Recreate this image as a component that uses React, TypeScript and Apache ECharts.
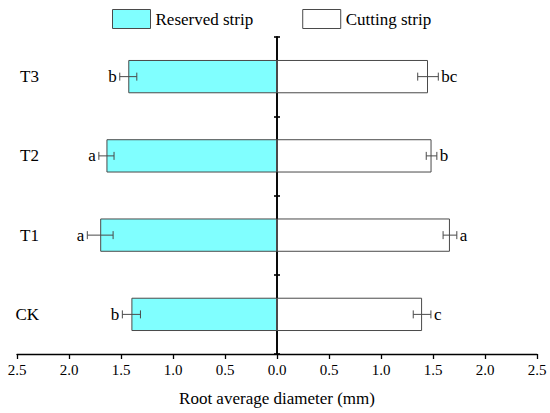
import React, { useEffect, useRef } from "react";
import * as echarts from "echarts";

const categories = ["CK", "T1", "T2", "T3"];
const reservedValues = [1.4, 1.7, 1.64, 1.43];
const reservedErrors = [0.087, 0.124, 0.073, 0.082];
const reservedLetters = ["b", "a", "a", "b"];
const cuttingValues = [1.395, 1.663, 1.486, 1.452];
const cuttingErrors = [0.085, 0.066, 0.051, 0.099];
const cuttingLetters = ["c", "a", "b", "bc"];
const xTicks = [-2.5, 2.5, 0.5];

const FONT = "Liberation Serif";
const BORDER = "#4a4a4a";

function errorRenderer(values: number[], errors: number[], letters: string[], sign: number) {
  return (params: any, api: any) => {
    const i = params.dataIndex;
    const v = sign * values[i];
    const e = errors[i];
    const inner = api.coord([v - sign * e, i]);
    const outer = api.coord([v + sign * e, i]);
    const y = inner[1];
    const cap = 4;
    return {
      type: "group",
      children: [
        { type: "line", shape: { x1: inner[0], y1: y, x2: outer[0], y2: y }, style: { stroke: BORDER, lineWidth: 1 } },
        { type: "line", shape: { x1: inner[0], y1: y - cap, x2: inner[0], y2: y + cap }, style: { stroke: BORDER, lineWidth: 1 } },
        { type: "line", shape: { x1: outer[0], y1: y - cap, x2: outer[0], y2: y + cap }, style: { stroke: BORDER, lineWidth: 1 } },
        {
          type: "text",
          x: outer[0] + sign * 3,
          y: y,
          style: {
            text: letters[i],
            fontSize: 17,
            fontFamily: FONT,
            fill: "#000",
            align: sign < 0 ? "right" : "left",
            verticalAlign: "middle",
          },
        },
      ],
    };
  };
}

export default function App() {
  const ref = useRef<HTMLDivElement>(null);
  useEffect(() => {
    document.body.style.margin = "0";
    const chart = echarts.init(ref.current!, null, { renderer: "svg" });
    const catAxisBase = {
      type: "category",
      data: categories,
      boundaryGap: true,
      axisLabel: { show: false },
      splitLine: { show: false },
    };
    chart.setOption({
      animation: false,
      backgroundColor: "#fff",
      textStyle: { fontFamily: FONT },
      legend: {
        data: ["Reserved strip", "Cutting strip"],
        left: 112,
        top: 9,
        padding: 0,
        icon: "rect",
        itemWidth: 38,
        itemHeight: 19,
        itemGap: 49,
        itemStyle: { borderColor: BORDER, borderWidth: 1 },
        textStyle: { fontSize: 17, fontFamily: FONT, color: "#000" },
      },
      grid: { left: 17, right: 13, top: 37, bottom: 59, containLabel: false },
      xAxis: {
        type: "value",
        min: xTicks[0],
        max: xTicks[1],
        interval: xTicks[2],
        name: "Root average diameter (mm)",
        nameLocation: "middle",
        nameGap: 36,
        nameTextStyle: { fontSize: 17, fontFamily: FONT, color: "#000" },
        axisLine: { show: true, onZero: false, lineStyle: { color: "#000", width: 1.3 } },
        axisTick: { show: true, length: 5, lineStyle: { color: "#000", width: 1.3 } },
        axisLabel: {
          fontSize: 15,
          fontFamily: FONT,
          color: "#000",
          margin: 8,
          formatter: (v: number) => Math.abs(v).toFixed(1),
        },
        splitLine: { show: false },
      },
      yAxis: [
        {
          ...catAxisBase,
          position: "left",
          axisLine: { show: true, onZero: true, onZeroAxisIndex: 0, lineStyle: { color: "#000", width: 1.6 } },
          axisTick: { show: true, length: 3, lineStyle: { color: "#000", width: 1.6 } },
        },
        {
          ...catAxisBase,
          position: "right",
          axisLine: { show: true, onZero: true, onZeroAxisIndex: 0, lineStyle: { color: "#000", width: 1.6 } },
          axisTick: { show: true, length: 3, lineStyle: { color: "#000", width: 1.6 } },
        },
        {
          type: "category",
          data: categories,
          position: "left",
          offset: -30,
          axisLine: { show: false, onZero: false },
          axisTick: { show: false },
          splitLine: { show: false },
          axisLabel: { show: true, fontSize: 17, fontFamily: FONT, color: "#000", margin: 8 },
        },
      ],
      series: [
        {
          name: "Reserved strip",
          type: "bar",
          xAxisIndex: 0,
          yAxisIndex: 0,
          data: reservedValues.map((v) => -v),
          barWidth: "42%",
          barGap: "-100%",
          itemStyle: { color: "#80ffff", borderColor: BORDER, borderWidth: 1 },
        },
        {
          name: "Cutting strip",
          type: "bar",
          xAxisIndex: 0,
          yAxisIndex: 0,
          data: cuttingValues,
          barWidth: "42%",
          barGap: "-100%",
          itemStyle: { color: "#ffffff", borderColor: BORDER, borderWidth: 1 },
        },
        {
          type: "custom",
          xAxisIndex: 0,
          yAxisIndex: 0,
          data: reservedValues.map((v, i) => [-v, i]),
          renderItem: errorRenderer(reservedValues, reservedErrors, reservedLetters, -1),
          z: 5,
        },
        {
          type: "custom",
          xAxisIndex: 0,
          yAxisIndex: 0,
          data: cuttingValues.map((v, i) => [v, i]),
          renderItem: errorRenderer(cuttingValues, cuttingErrors, cuttingLetters, 1),
          z: 5,
        },
      ],
    });
    return () => chart.dispose();
  }, []);
  return <div ref={ref} style={{ width: 550, height: 413 }} />;
}
